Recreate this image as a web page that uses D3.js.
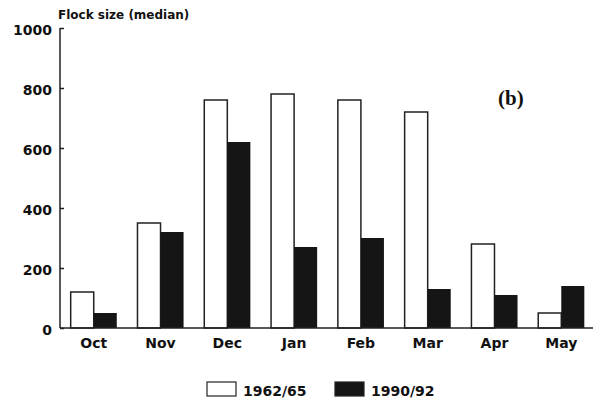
<!DOCTYPE html>
<html>
<head>
<meta charset="utf-8">
<script src="https://cdn.jsdelivr.net/npm/d3@7"></script>
<style>
  body { margin: 0; background: #fff; }
  text { font-family: "DejaVu Sans", sans-serif; font-weight: bold; fill: #111; }
</style>
</head>
<body>
<div id="chart"></div>
<script>
// flock size chart (b)

const months = ["Oct", "Nov", "Dec", "Jan", "Feb", "Mar", "Apr", "May"]
const early = [120, 350, 760, 780, 760, 720, 280, 50]   // 1962/65
const late = [50, 320, 620, 270, 300, 130, 110, 140]    // 1990/92
const seriesNames = ["1962/65", "1990/92"]
const yTicks = [0, 200, 400, 600, 800, 1000]

const width = 600
const height = 403

const svg = d3.select("#chart").append("svg")
  .attr("width", width)
  .attr("height", height)

const y = d3.scaleLinear().domain([0, 1000]).range([328, 28])

// groups are ~67px apart, starting at the Oct white bar
const x = d3.scaleBand().domain(months).range([60, 595]).paddingInner(0.31).paddingOuter(0.16)
const sub = d3.scaleBand().domain(seriesNames).range([0, x.bandwidth()])

// bars
const groups = svg.append("g")
  .selectAll("g")
  .data(months)
  .enter()
  .append("g")
  .attr("transform", d => `translate(${x(d)},0)`)

groups.append("rect")
  .attr("x", sub(seriesNames[0]))
  .attr("y", (d, i) => y(early[i]))
  .attr("width", sub.bandwidth())
  .attr("height", (d, i) => y(0) - y(early[i]))
  .attr("fill", "white")
  .attr("stroke", "#222")
  .attr("stroke-width", 1.5)

groups.append("rect")
  .attr("x", sub(seriesNames[1]))
  .attr("y", (d, i) => y(late[i]))
  .attr("width", sub.bandwidth())
  .attr("height", (d, i) => y(0) - y(late[i]))
  .attr("fill", "#151515")

// y axis
const yAxis = d3.axisRight(y).tickValues(yTicks).tickSize(4).tickFormat("")
const ya = svg.append("g").attr("transform", "translate(60,0)").call(yAxis)
ya.select(".domain").remove()
ya.selectAll("line").attr("stroke", "#222").attr("stroke-width", 1.5)
svg.append("line")
  .attr("x1", 60).attr("x2", 60)
  .attr("y1", y(1000)).attr("y2", y(0))
  .attr("stroke", "#222").attr("stroke-width", 1.5)

svg.append("g")
  .selectAll("text")
  .data(yTicks)
  .enter()
  .append("text")
  .attr("x", 52)
  .attr("y", d => y(d) + 7)
  .attr("text-anchor", "end")
  .attr("font-size", "14px")
  .text(d => d)

// baseline
svg.append("line")
  .attr("x1", 60).attr("x2", 593)
  .attr("y1", y(0)).attr("y2", y(0))
  .attr("stroke", "#222").attr("stroke-width", 1.5)

// month labels
svg.append("g")
  .selectAll("text")
  .data(months)
  .enter()
  .append("text")
  .attr("x", d => x(d) + x.bandwidth() / 2)
  .attr("y", 348)
  .attr("text-anchor", "middle")
  .attr("font-size", "14px")
  .text(d => d)

// title
svg.append("text")
  .attr("x", 58)
  .attr("y", 19)
  .attr("font-size", "12px")
  .text("Flock size (median)")

svg.append("text")
  .attr("x", 498)
  .attr("y", 105)
  .style("font-family", "'Liberation Serif', serif")
  .style("font-size", "21px")
  .text("(b)")

// legend
const legend = svg.append("g")
const legX = [207, 335]
legend.selectAll("rect")
  .data(seriesNames)
  .enter()
  .append("rect")
  .attr("x", (d, i) => legX[i])
  .attr("y", 382)
  .attr("width", 29)
  .attr("height", 14)
  .attr("fill", (d, i) => i == 0 ? "white" : "#151515")
  .attr("stroke", "#222")
  .attr("stroke-width", 1.2)

legend.selectAll("text")
  .data(seriesNames)
  .enter()
  .append("text")
  .attr("x", (d, i) => legX[i] + 36)
  .attr("y", 396)
  .attr("font-size", "14px")
  .text(d => d)
</script>
</body>
</html>
